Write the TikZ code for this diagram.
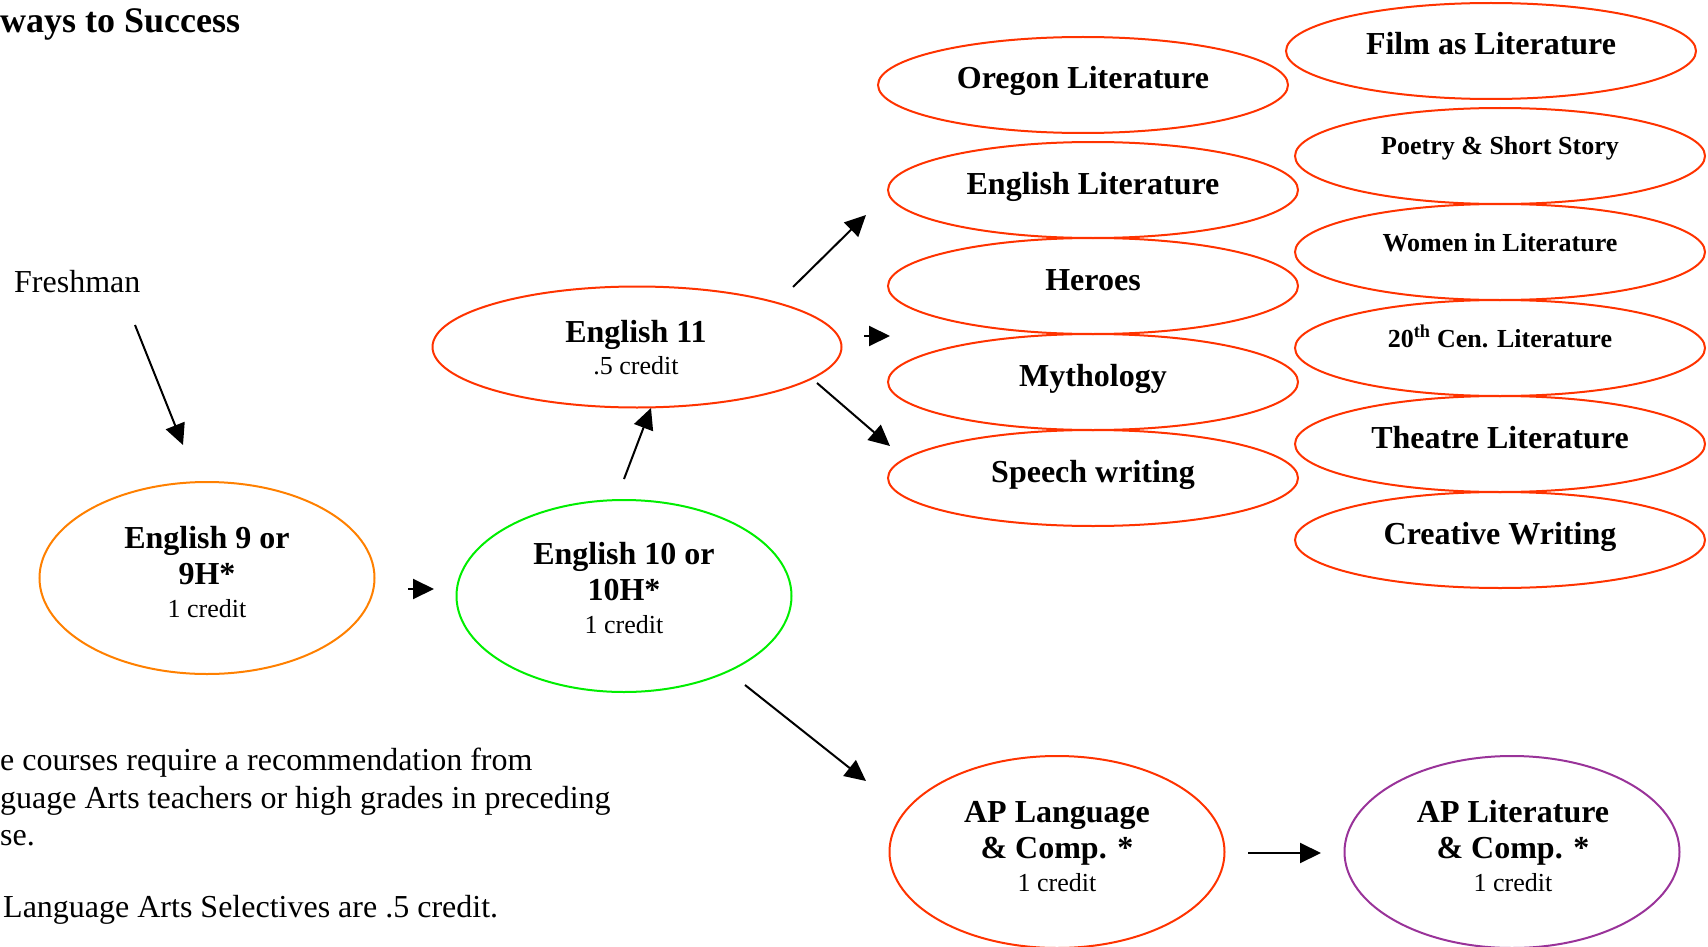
\documentclass[tikz,border=0pt]{standalone}
\usepackage{fontspec}
\setmainfont{Liberation Serif}
\usetikzlibrary{shapes.geometric,arrows.meta}
\definecolor{ored}{HTML}{FF3300}
\definecolor{oorange}{HTML}{FF8000}
\definecolor{ogreen}{HTML}{00EE00}
\definecolor{opurple}{HTML}{993399}
\tikzset{
  ell/.style={ellipse,draw=ored,line width=2pt,inner sep=0pt,minimum width=410pt,minimum height=96pt},
  bigell/.style={ellipse,line width=2pt,inner sep=0pt,minimum width=335pt,minimum height=192pt},
  bt/.style={anchor=base,inner sep=0pt,font=\fontsize{32}{36}\selectfont\bfseries},
  st/.style={anchor=base,inner sep=0pt,font=\fontsize{26}{30}\selectfont\bfseries},
  ct/.style={anchor=base,inner sep=0pt,font=\fontsize{26}{30}\selectfont},
  pt/.style={anchor=base west,inner sep=0pt,font=\fontsize{32}{36}\selectfont},
  arr/.style={line width=2pt,-{Triangle[length=21pt,width=20pt]}}
}
\begin{document}
\begin{tikzpicture}[x=1pt,y=-1pt]
\useasboundingbox (0,0) rectangle (1708,947);
% title
\node[anchor=base west,inner sep=0pt,font=\fontsize{36}{40}\selectfont\bfseries] (title) at (0,33) {ways to Success};
\node[pt] (fresh) at (14,292) {Freshman};
% ellipses
\node[bigell,draw=oorange] (e9) at (207,578) {};
\node[bigell,draw=ogreen] (e10) at (624,596) {};
\node[ell,minimum width=409pt,minimum height=121pt] (e11) at (637,347) {};
\node[bigell,draw=ored] (apl) at (1057,852) {};
\node[bigell,draw=opurple] (aplit) at (1512,852) {};
\node[ell] (oreg) at (1083,85) {};
\node[ell] (englit) at (1093,190) {};
\node[ell] (heroes) at (1093,286) {};
\node[ell] (myth) at (1093,382) {};
\node[ell] (speech) at (1093,478) {};
\node[ell] (film) at (1491,51) {};
\node[ell] (poetry) at (1500,156) {};
\node[ell] (women) at (1500,252) {};
\node[ell] (cen) at (1500,348) {};
\node[ell] (theatre) at (1500,444) {};
\node[ell] (creative) at (1500,540) {};
% labels
\node[bt] (t9a) at (207,548) {English 9 or};
\node[bt] (t9b) at (207,584) {9H*};
\node[ct] (t9c) at (207,617) {1 credit};
\node[bt] (t10a) at (624,564) {English 10 or};
\node[bt] (t10b) at (624,600) {10H*};
\node[ct] (t10c) at (624,633) {1 credit};
\node[bt] (t11a) at (636,342) {English 11};
\node[ct] (t11b) at (636,374) {.5 credit};
\node[bt] (tapa) at (1057,822) {AP Language};
\node[bt] (tapb) at (1057,858) {\& Comp. *};
\node[ct] (tapc) at (1057,891) {1 credit};
\node[bt] (tala) at (1513,822) {AP Literature};
\node[bt] (talb) at (1513,858) {\& Comp. *};
\node[ct] (talc) at (1513,891) {1 credit};
\node[bt] (toreg) at (1083,89) {Oregon Literature};
\node[bt] (tenglit) at (1093,194) {English Literature};
\node[bt] (theroes) at (1093,290) {Heroes};
\node[bt] (tmyth) at (1093,386) {Mythology};
\node[bt] (tspeech) at (1093,482) {Speech writing};
\node[bt] (tfilm) at (1491,55) {Film as Literature};
\node[st] (tpoetry) at (1500,155) {Poetry \& Short Story};
\node[st] (twomen) at (1500,251) {Women in Literature};
\node[st] (tcen) at (1500,347) {20\textsuperscript{th} Cen. Literature};
\node[bt] (ttheatre) at (1500,448) {Theatre Literature};
\node[bt] (tcreative) at (1500,544) {Creative Writing};
% footnotes
\node[pt] (n1) at (0,770) {e courses require a recommendation from};
\node[pt] (n2) at (0,808) {guage Arts teachers or high grades in preceding};
\node[pt] (n3) at (0,845) {se.};
\node[pt] (n4) at (3,917) {Language Arts Selectives are .5 credit.};
% arrow coordinates
\coordinate (a1s) at (135,325); \coordinate (a1e) at (183,445);
\coordinate (a2s) at (408,589); \coordinate (a2e) at (434,589);
\coordinate (a3s) at (624,479); \coordinate (a3e) at (651,408);
\coordinate (a4s) at (793,287); \coordinate (a4e) at (866,215);
\coordinate (a5s) at (864,336); \coordinate (a5e) at (890,336);
\coordinate (a6s) at (817,383); \coordinate (a6e) at (890,446);
\coordinate (a7s) at (745,685); \coordinate (a7e) at (866,781);
\coordinate (a8s) at (1248,853); \coordinate (a8e) at (1321,853);
\draw[arr] (a1s) -- (a1e);
\draw[arr] (a2s) -- (a2e);
\draw[arr] (a3s) -- (a3e);
\draw[arr] (a4s) -- (a4e);
\draw[arr] (a5s) -- (a5e);
\draw[arr] (a6s) -- (a6e);
\draw[arr] (a7s) -- (a7e);
\draw[arr] (a8s) -- (a8e);
\end{tikzpicture}
\end{document}
